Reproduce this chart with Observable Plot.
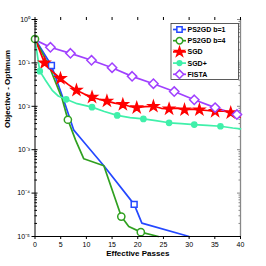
<!DOCTYPE html>
<html><head><meta charset="utf-8">
<script src="https://cdn.jsdelivr.net/npm/d3@7"></script>
<script src="https://cdn.jsdelivr.net/npm/@observablehq/plot@0.6"></script>
<style>body{margin:0;background:#fff}</style>
</head><body><div id="chart"></div>
<script>
// ---- data ----
const seriesNames = ["PS2GD b=1", "PS2GD b=4", "SGD", "SGD+", "FISTA"];
const passB1 = [0, 3.2, 5.6, 7.55, 9.5, 13.4, 19.3, 20.8, 30];
const objB1  = [0.355, 0.087, 0.0138, 0.00282, 0.00151, 0.000427, 5.5e-5, 2.04e-5, 1.0e-5];
const markB1 = [1, 6];
const passB4 = [0, 2.7, 5.3, 6.4, 7.9, 9.5, 13.4, 16.8, 18.25, 20.6, 24];
const objB4  = [0.355, 0.087, 0.0148, 0.0049, 0.00166, 0.000617, 0.000427, 2.88e-5, 1.7e-5, 1.26e-5, 1.0e-5];
const markB4 = [0, 3, 7, 9];
const passSGD = [0, 0.4, 1.85, 3.4, 4.96, 6.5, 8.07, 9.6, 11.1, 12.5, 14.0, 15.5, 17.1, 18.4, 19.8, 21.4, 23.05, 24.6, 26.1, 27.6, 29.1, 30.5, 32.0, 33.5, 35.06, 36.6, 38.1, 39.9];
const objSGD  = [0.355, 0.275, 0.1, 0.063, 0.0437, 0.0316, 0.0234, 0.0191, 0.0162, 0.0145, 0.0132, 0.0118, 0.011, 0.0100, 0.0093, 0.0098, 0.0100, 0.0090, 0.0087, 0.0091, 0.0083, 0.0086, 0.0083, 0.0080, 0.0076, 0.0078, 0.0071, 0.0056];
const markSGD = [2, 4, 6, 8, 10, 12, 14, 16, 18, 20, 22, 24, 26];
const passSGDp = [0, 0.5, 0.93, 2.04, 3.35, 4.6, 6.07, 8.2, 11.1, 13.5, 16, 18.5, 21.1, 23.5, 26.1, 28.5, 31, 33.5, 36.1, 38.5, 40];
const objSGDp  = [0.355, 0.141, 0.0646, 0.0398, 0.0234, 0.0170, 0.0145, 0.0115, 0.00955, 0.00759, 0.00617, 0.0055, 0.00513, 0.00468, 0.00417, 0.00398, 0.0038, 0.00363, 0.00347, 0.00316, 0.00302];
const markSGDp = [2, 6, 8, 10, 12, 14, 16, 18];
const passFISTA = [0, 3.0, 6.9, 11.0, 15.0, 18.9, 23.05, 27.1, 31.0, 35.06, 39.3];
const objFISTA  = [0.339, 0.229, 0.166, 0.115, 0.0776, 0.049, 0.0331, 0.0219, 0.0141, 0.00933, 0.00646];
const markFISTA = [1, 2, 3, 4, 5, 6, 7, 8, 9, 10];
const xTicks = [0, 5, 10, 15, 20, 25, 30, 35, 40];
const yTicks = [1e-5, 1e-4, 1e-3, 1e-2, 1e-1, 1];

// ---- styling ----
const colors = ["#2448ff", "#30a020", "#ff0000", "#40f0aa", "#a040ff"];
const symbols = ["square", "circle", "star", "circle", "diamond2"];
const fills = ["white", "white", "#ff0000", "#40f0aa", "white"];
const radii = [3.3, 3.6, 3.2, 2.6, 4.2];

const raw = [[passB1, objB1, markB1], [passB4, objB4, markB4], [passSGD, objSGD, markSGD], [passSGDp, objSGDp, markSGDp], [passFISTA, objFISTA, markFISTA]];
const lines = [], marks = [];
raw.forEach(([xs, ys, mk], s) => {
  xs.forEach((x, i) => lines.push({s, x, y: ys[i]}));
  mk.forEach(i => marks.push({s, x: xs[i], y: ys[i]}));
});
const minor = [];
for (let e = -5; e < 0; e++) for (let k = 2; k <= 9; k++) minor.push(k * Math.pow(10, e));
const supMap = {"-": "\u207B", "0": "\u2070", "1": "\u00B9", "2": "\u00B2", "3": "\u00B3", "4": "\u2074", "5": "\u2075"};
const fmt = d => "10" + String(Math.round(Math.log10(d))).split("").map(c => supMap[c]).join("");
const blank = () => "";

const lineMarks = [0, 1, 2, 3, 4].map(s => Plot.line(lines.filter(d => d.s === s), {x: "x", y: "y", stroke: colors[s], strokeWidth: 1.7}));
const markOrder = [0, 2, 3, 4, 1];
const dotMarks = markOrder.map(s => Plot.dot(marks.filter(d => d.s === s), {x: "x", y: "y", symbol: symbols[s], r: radii[s], stroke: colors[s], fill: fills[s], strokeWidth: 1.5}));

const chart = Plot.plot({
  width: 266, height: 266,
  marginLeft: 34.5, marginRight: 26, marginTop: 19, marginBottom: 30,
  style: {fontFamily: "Liberation Sans, Arial, sans-serif", fontSize: "7px", background: "white", overflow: "visible"},
  x: {domain: [0, 40]},
  y: {type: "log", domain: [1e-5, 1]},
  marks: [
    // right gray axis
    Plot.ruleX([40], {stroke: "#888", strokeWidth: 1.3}),
    Plot.axisY({anchor: "right", ticks: minor, tickSize: 2.5, dx: -2.5, tickFormat: blank, stroke: "#888", label: null}),
    Plot.axisY({anchor: "right", ticks: yTicks, tickSize: 4, dx: -4, tickFormat: blank, stroke: "#888", label: null}),
    ...lineMarks,
    ...dotMarks,
    // left axis
    Plot.ruleX([0], {stroke: "black", strokeWidth: 1}),
    Plot.axisY({anchor: "left", ticks: yTicks, tickSize: 6, dx: 3, tickFormat: blank, label: null}),
    Plot.axisY({anchor: "left", ticks: minor, tickSize: 2.5, dx: 2.5, tickFormat: blank, label: null}),
    Plot.axisY({anchor: "left", ticks: yTicks, tickSize: 0, tickPadding: 5, tickFormat: fmt, label: null, fill: "black", fontSize: 7}),
    // bottom and top axes
    Plot.ruleY([1e-5], {stroke: "black", strokeWidth: 1}),
    Plot.axisX({anchor: "bottom", ticks: xTicks, tickSize: 3, tickPadding: 3, label: null, fill: "black", fontSize: 7}),
    Plot.axisX({anchor: "top", ticks: xTicks, tickSize: 3, tickFormat: blank, label: null}),
    Plot.text(["Objective - Optimum"], {frameAnchor: "left", rotate: -90, dx: -28, fontWeight: "bold", fontSize: 8}),
    Plot.text(["Effective Passes"], {frameAnchor: "bottom", dy: 19, fontWeight: "bold", fontSize: 8})
  ]
});
document.getElementById("chart").appendChild(chart);

// legend inside the plot
const svg = d3.select(chart);
const lg = svg.append("g").attr("font-family", "Liberation Sans, Arial, sans-serif").attr("font-size", 7).attr("font-weight", "bold").attr("text-anchor", "start");
lg.append("rect").attr("x", 171).attr("y", 23.5).attr("width", 67.5).attr("height", 56).attr("fill", "white").attr("stroke", "#333").attr("stroke-width", 0.8);
seriesNames.forEach((name, s) => {
  const y = 29.5 + s * 11.2;
  lg.append("line").attr("x1", 173).attr("x2", 186).attr("y1", y).attr("y2", y).attr("stroke", colors[s]).attr("stroke-width", 1.7);
  const sym = {square: d3.symbolSquare, circle: d3.symbolCircle, star: d3.symbolStar, diamond2: d3.symbolDiamond2}[symbols[s]];
  const r = radii[s] * 0.9;
  lg.append("path").attr("transform", `translate(179.5,${y})`).attr("d", d3.symbol(sym, Math.PI * r * r)())
    .attr("fill", fills[s]).attr("stroke", colors[s]).attr("stroke-width", 1.5);
  lg.append("text").attr("x", 187.5).attr("y", y).attr("dy", "0.35em").attr("fill", "black").text(name);
});
</script></body></html>
